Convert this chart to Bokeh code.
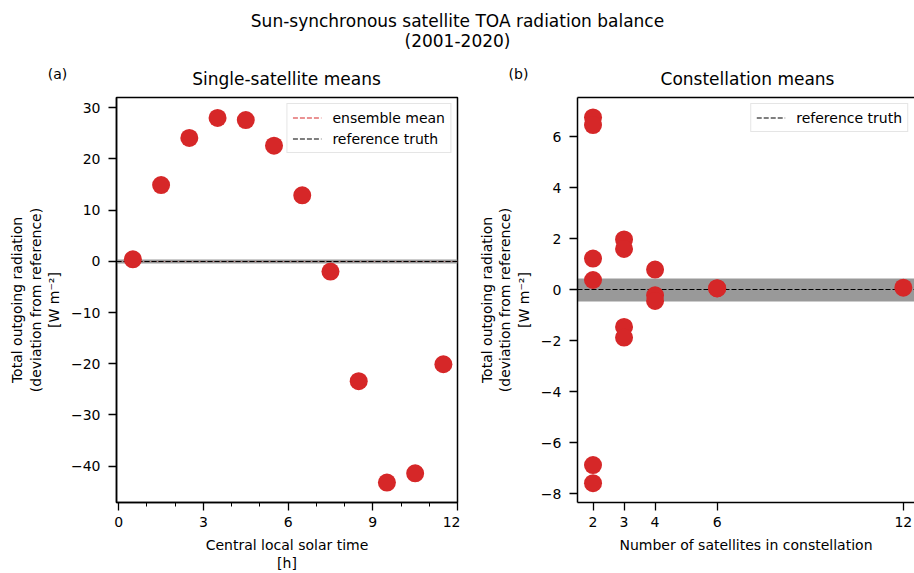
import numpy as np
from bokeh.plotting import figure
from bokeh.layouts import column, row
from bokeh.models import FixedTicker, Range1d, Label, LinearAxis
from bokeh.embed import file_html
from bokeh.resources import INLINE

# ---------------- data ----------------
SUPTITLE = ["Sun-synchronous satellite TOA radiation balance", "(2001-2020)"]
TITLE_A = "Single-satellite means"
TITLE_B = "Constellation means"
PANEL_A = "(a)"
PANEL_B = "(b)"
Y_LABEL = "Total outgoing radiation\n(deviation from reference)\n[W m\u207b\u00b2]"
X1_LABEL = "Central local solar time\n[h]"
X2_LABEL = "Number of satellites in constellation"

# single satellites: central local solar time [h] and deviation [W m-2]
LST_HOURS = [0.5, 1.5, 2.5, 3.5, 4.5, 5.5, 6.5, 7.5, 8.5, 9.5, 10.5, 11.5]
SINGLE_DEV = [0.4, 14.9, 24.1, 28.0, 27.6, 22.6, 12.9, -2.0, -23.4, -43.2, -41.4, -20.1]

# constellations: number of satellites and deviation [W m-2]
CONST_N = [2, 2, 2, 2, 2, 2, 3, 3, 3, 3, 4, 4, 4, 6, 6, 12]
CONST_DEV = [6.76, 6.46, 1.22, 0.38, -6.88, -7.59,
             1.97, 1.60, -1.46, -1.88,
             0.79, -0.22, -0.44,
             0.06, 0.05,
             0.08]

REF_TRUTH = 0.0
REF_BAND = 0.45  # half-width of grey uncertainty band

X1_TICKS = [0, 3, 6, 9, 12]
X1_MINOR = list(range(0, 13))
Y1_TICKS = [-40, -30, -20, -10, 0, 10, 20, 30]
X2_TICKS = [2, 3, 4, 6, 12]
Y2_TICKS = [-8, -6, -4, -2, 0, 2, 4, 6]

ENSEMBLE_MEAN = float(np.mean(SINGLE_DEV))

# ---------------- style ----------------
RED = "#d62728"
GREY = "#999999"
FONT = "DejaVu Sans"
DASH = "5 2"
HEADER_H = 90


def style_axes(p):
    p.grid.visible = False
    p.background_fill_color = "white"
    p.border_fill_color = "white"
    for ax in p.axis:
        ax.axis_line_width = 1.5
        ax.axis_line_color = "black"
        ax.major_tick_line_width = 1.3
        ax.major_tick_line_color = "black"
        ax.major_tick_out = 8
        ax.major_tick_in = 0
        ax.minor_tick_line_color = "black"
        ax.minor_tick_line_width = 1.0
        ax.minor_tick_out = 4
        ax.minor_tick_in = 0
        ax.major_label_text_font = FONT
        ax.major_label_text_font_size = "14px"
        ax.major_label_text_color = "black"
        ax.axis_label_text_font = FONT
        ax.axis_label_text_font_size = "14px"
        ax.axis_label_text_font_style = "normal"
        ax.axis_label_text_color = "black"
        ax.axis_label_text_line_height = 1.15
    for ax in p.yaxis:
        ax.major_label_standoff = 8
        ax.axis_label_standoff = 6
    for ax in p.xaxis:
        ax.major_label_standoff = 6
        ax.axis_label_standoff = 7


def style_legend(p):
    lg = p.legend[0]
    lg.location = "top_right"
    lg.margin = 6
    lg.padding = 5
    lg.spacing = 4
    lg.label_height = 17
    lg.glyph_height = 17
    lg.glyph_width = 29
    lg.label_standoff = 11
    lg.label_text_font = FONT
    lg.label_text_font_size = "14px"
    lg.label_text_color = "black"
    lg.border_line_color = "#cccccc"
    lg.border_line_width = 1
    lg.background_fill_alpha = 0.8


def header_text(fig, x, y, text, size):
    fig.add_layout(Label(x=x, y=y, text=text, text_align="center",
                         text_baseline="middle", text_font=FONT,
                         text_font_size=size, text_color="black"))


# ---------------- header (suptitle, panel titles, panel letters) ----------------
hdr = figure(width=914, height=HEADER_H, x_range=Range1d(0, 914), y_range=Range1d(HEADER_H, 0),
             toolbar_location=None, output_backend="svg",
             x_axis_location=None, y_axis_location=None,
             min_border=0)
hdr.grid.visible = False
hdr.outline_line_color = None
header_text(hdr, 457, 20, SUPTITLE[0], "17px")
header_text(hdr, 457, 40, SUPTITLE[1], "17px")
header_text(hdr, 286, 78, TITLE_A, "17px")
header_text(hdr, 747, 78, TITLE_B, "17px")
header_text(hdr, 57, 73, PANEL_A, "14px")
header_text(hdr, 518, 73, PANEL_B, "14px")

PANEL_H = 573 - HEADER_H

# ---------------- panel (a) ----------------
p1 = figure(width=460, height=PANEL_H, x_range=Range1d(-0.08, 12.0), y_range=Range1d(-47.1, 32.0),
            toolbar_location=None, output_backend="svg",
            min_border_left=116, min_border_right=3, min_border_top=7, min_border_bottom=70)
p1.outline_line_color = "black"
p1.outline_line_width = 1.5
p1.hstrip(y0=[REF_TRUTH - REF_BAND], y1=[REF_TRUTH + REF_BAND], fill_color=GREY, line_color=None)
p1.hspan(y=[ENSEMBLE_MEAN], line_color=RED, line_width=1.2, line_dash=DASH, legend_label="ensemble mean")
p1.hspan(y=[REF_TRUTH], line_color="black", line_width=1.2, line_dash=DASH, legend_label="reference truth")
p1.scatter(LST_HOURS, SINGLE_DEV, size=18, fill_color=RED, line_color=None)
p1.xaxis.ticker = FixedTicker(ticks=X1_TICKS, minor_ticks=X1_MINOR)
p1.yaxis.ticker = FixedTicker(ticks=Y1_TICKS)
p1.xaxis.axis_label = X1_LABEL
p1.yaxis.axis_label = Y_LABEL
style_axes(p1)
style_legend(p1)

# ---------------- panel (b) ----------------
p2 = figure(width=454, height=PANEL_H, x_range=Range1d(1.5, 12.36), y_range=Range1d(-8.35, 7.54),
            toolbar_location=None, output_backend="svg",
            min_border_left=117, min_border_right=0, min_border_top=7, min_border_bottom=70)
p2.outline_line_color = None
p2.hstrip(y0=[REF_TRUTH - REF_BAND], y1=[REF_TRUTH + REF_BAND], fill_color=GREY, line_color=None)
p2.hspan(y=[REF_TRUTH], line_color="black", line_width=1.2, line_dash=DASH, legend_label="reference truth")
p2.scatter(CONST_N, CONST_DEV, size=18, fill_color=RED, line_color=None)
p2.xaxis.ticker = FixedTicker(ticks=X2_TICKS)
p2.yaxis.ticker = FixedTicker(ticks=Y2_TICKS)
p2.xaxis.axis_label = X2_LABEL
p2.yaxis.axis_label = Y_LABEL
top_axis = LinearAxis(ticker=FixedTicker(ticks=[]))
p2.add_layout(top_axis, "above")
style_axes(p2)
top_axis.major_tick_out = 0
top_axis.minor_tick_out = 0
top_axis.major_label_standoff = 0
top_axis.major_label_text_font_size = "0px"
style_legend(p2)

layout = column(hdr, row(p1, p2))
open("out.html", "w").write(file_html(layout, INLINE))
